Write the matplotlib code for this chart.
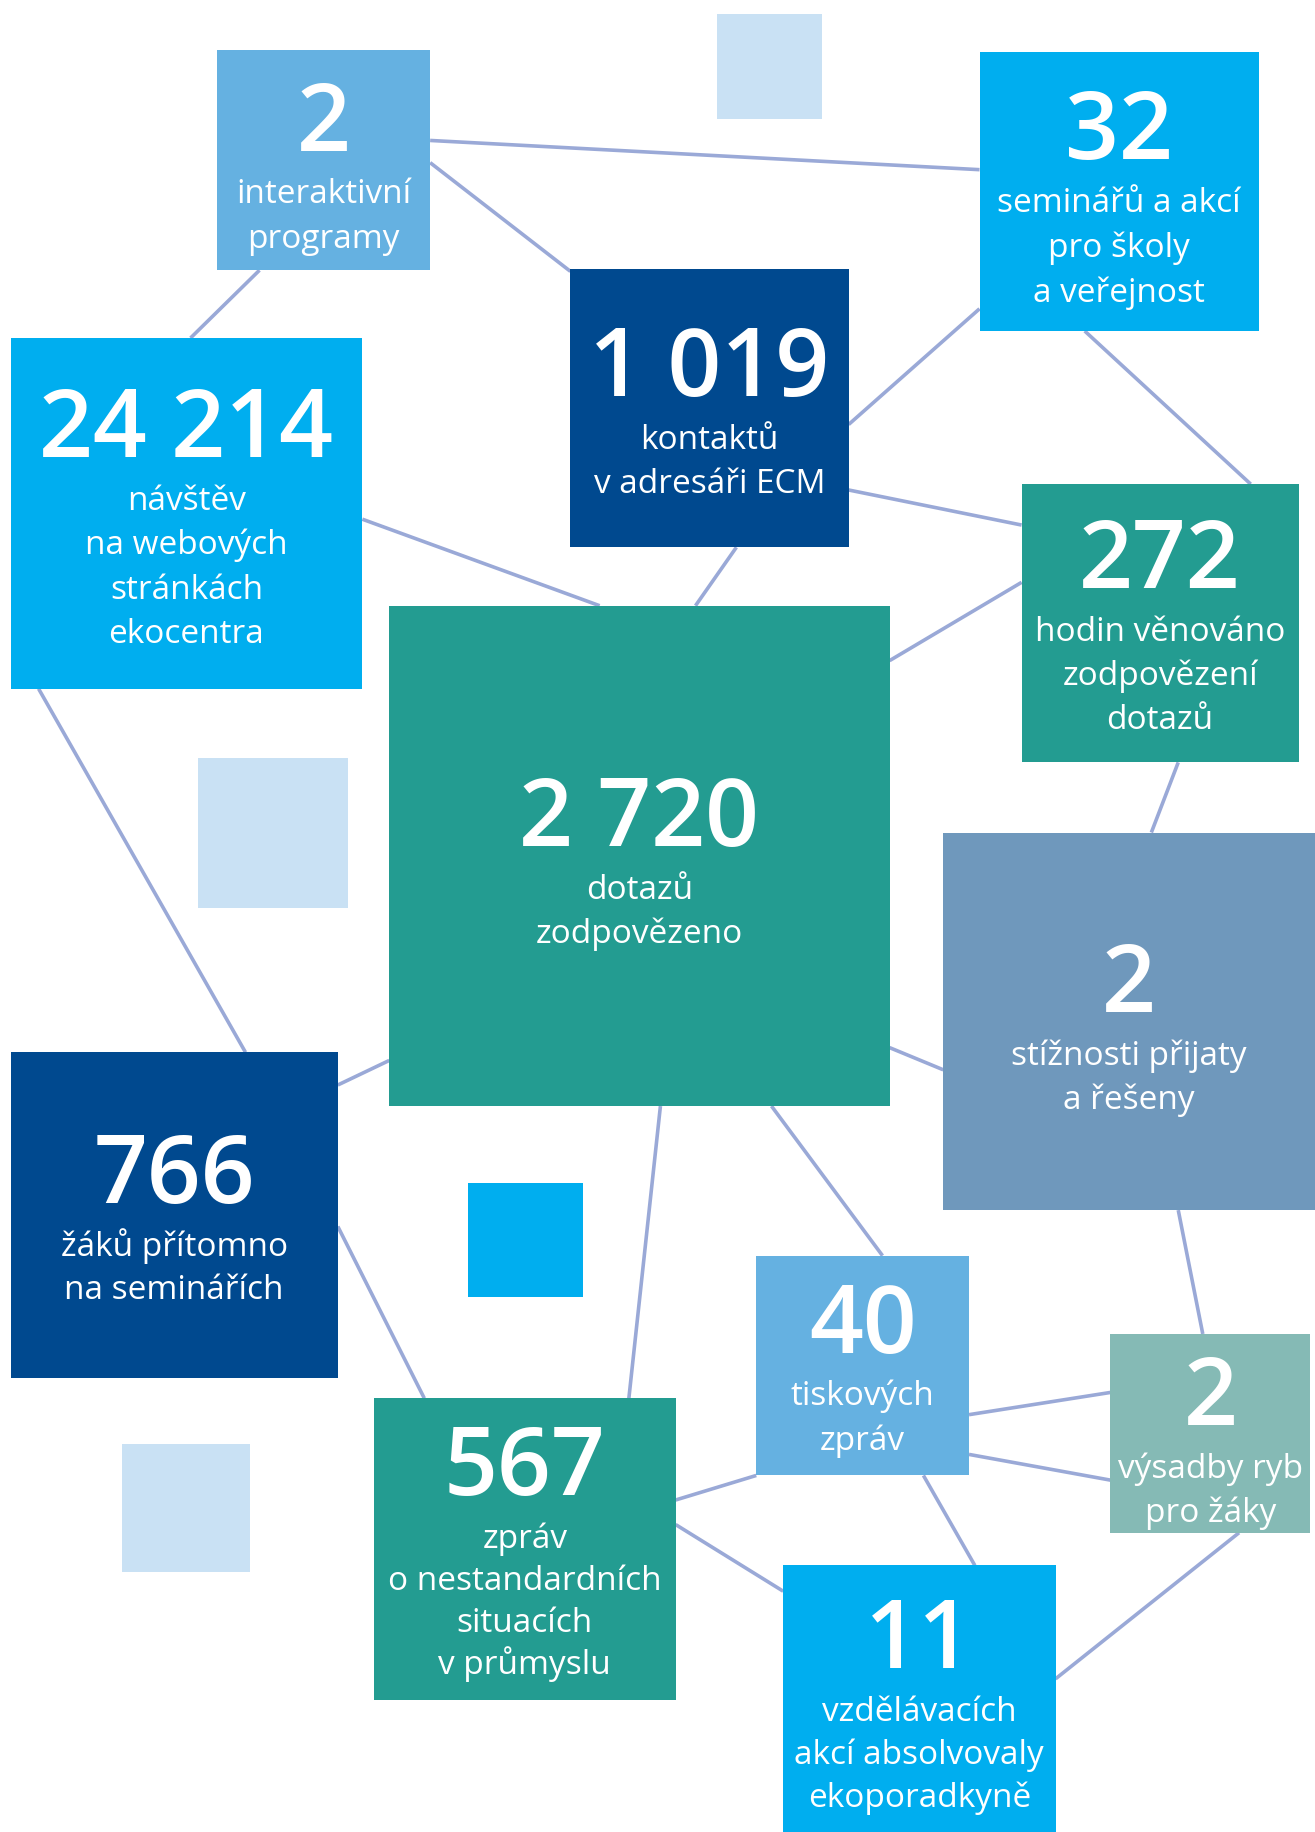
import matplotlib
matplotlib.use("Agg")
import matplotlib.pyplot as plt
from matplotlib.patches import Rectangle

# values shown in the boxes
numbers = ["2", "32", "1 019", "24 214", "272", "2 720",
           "2", "766", "40", "2", "567", "11"]
labels = [
    ["interaktivní", "programy"],
    ["seminářů a akcí", "pro školy", "a veřejnost"],
    ["kontaktů", "v adresáři ECM"],
    ["návštěv", "na webových", "stránkách", "ekocentra"],
    ["hodin věnováno", "zodpovězení", "dotazů"],
    ["dotazů", "zodpovězeno"],
    ["stížnosti přijaty", "a řešeny"],
    ["žáků přítomno", "na seminářích"],
    ["tiskových", "zpráv"],
    ["výsadby ryb", "pro žáky"],
    ["zpráv", "o nestandardních", "situacích", "v průmyslu"],
    ["vzdělávacích", "akcí absolvovaly", "ekoporadkyně"],
]

LIGHT = "#65b1e1"
CYAN = "#00aeef"
DARK = "#00498f"
TEAL = "#239c91"
GREYBLUE = "#6f98bc"
GREYTEAL = "#85bab5"
PALE = "#c9e1f4"
LINE = "#9aa9d7"

# layout: x0, y0, x1, y1, colour, number centre y, line spacing
boxes = [
    (186, 44, 368, 232, LIGHT, 100, 38),
    (838, 45, 1077, 284, CYAN, 107, 38.5),
    (488, 231, 726, 469, DARK, 310, 38),
    (9, 290, 310, 590, CYAN, 362, 38),
    (874, 415, 1111, 653, TEAL, 474, 38),
    (333, 519, 761, 947, TEAL, 695, 38),
    (807, 713, 1125, 1036, GREYBLUE, 837, 38),
    (9, 901, 289, 1180, DARK, 1000, 37),
    (647, 1075, 829, 1263, LIGHT, 1128, 38),
    (950, 1142, 1121, 1312, GREYTEAL, 1190, 38),
    (320, 1197, 578, 1455, TEAL, 1250, 36),
    (670, 1340, 903, 1570, CYAN, 1398, 37),
]

deco = [
    (613, 13, 703, 103, PALE),
    (169, 649, 298, 778, PALE),
    (400, 1013, 499, 1110, CYAN),
    (104, 1236, 214, 1346, PALE),
]

links = [
    ((368, 121), (838, 146)),
    ((368, 140), (488, 233)),
    ((222, 232), (163, 290)),
    ((838, 265), (726, 364)),
    ((928, 284), (1070, 415)),
    ((726, 420), (874, 450)),
    ((630, 469), (595, 519)),
    ((310, 445), (513, 519)),
    ((33, 590), (210, 901)),
    ((874, 499), (761, 566)),
    ((1008, 653), (985, 713)),
    ((761, 897), (807, 916)),
    ((333, 908), (289, 929)),
    ((565, 947), (538, 1197)),
    ((660, 947), (755, 1075)),
    ((1008, 1036), (1029, 1142)),
    ((289, 1050), (363, 1197)),
    ((829, 1211), (950, 1192)),
    ((829, 1245), (950, 1267)),
    ((647, 1263), (578, 1284)),
    ((790, 1263), (834, 1340)),
    ((578, 1305), (670, 1362)),
    ((1060, 1312), (903, 1437)),
]

fig = plt.figure(figsize=(13.15, 18.33), dpi=100)
ax = fig.add_axes([0, 0, 1, 1])
ax.set_xlim(0, 1125)
ax.set_ylim(1568, 0)
ax.axis("off")

for (a, b) in links:
    ax.plot([a[0], b[0]], [a[1], b[1]], color=LINE, lw=2.6, zorder=1,
            solid_capstyle="butt")

for x0, y0, x1, y1, c in deco:
    ax.add_patch(Rectangle((x0, y0), x1 - x0, y1 - y0, facecolor=c,
                           edgecolor="none", zorder=2))

for i, (x0, y0, x1, y1, c, ny, sp) in enumerate(boxes):
    ax.add_patch(Rectangle((x0, y0), x1 - x0, y1 - y0, facecolor=c,
                           edgecolor="none", zorder=2))
    cx = (x0 + x1) / 2
    ax.text(cx, ny + 29, numbers[i], ha="center", va="baseline",
            color="white", fontsize=68, fontweight="semibold",
            family="Open Sans", zorder=3)
    for k, line in enumerate(labels[i]):
        ax.text(cx, ny + 63 + k * sp + 11, line, ha="center", va="baseline",
                color="white", fontsize=24, family="Open Sans", zorder=3)

fig.savefig("out.png", dpi=100)
plt.close()
